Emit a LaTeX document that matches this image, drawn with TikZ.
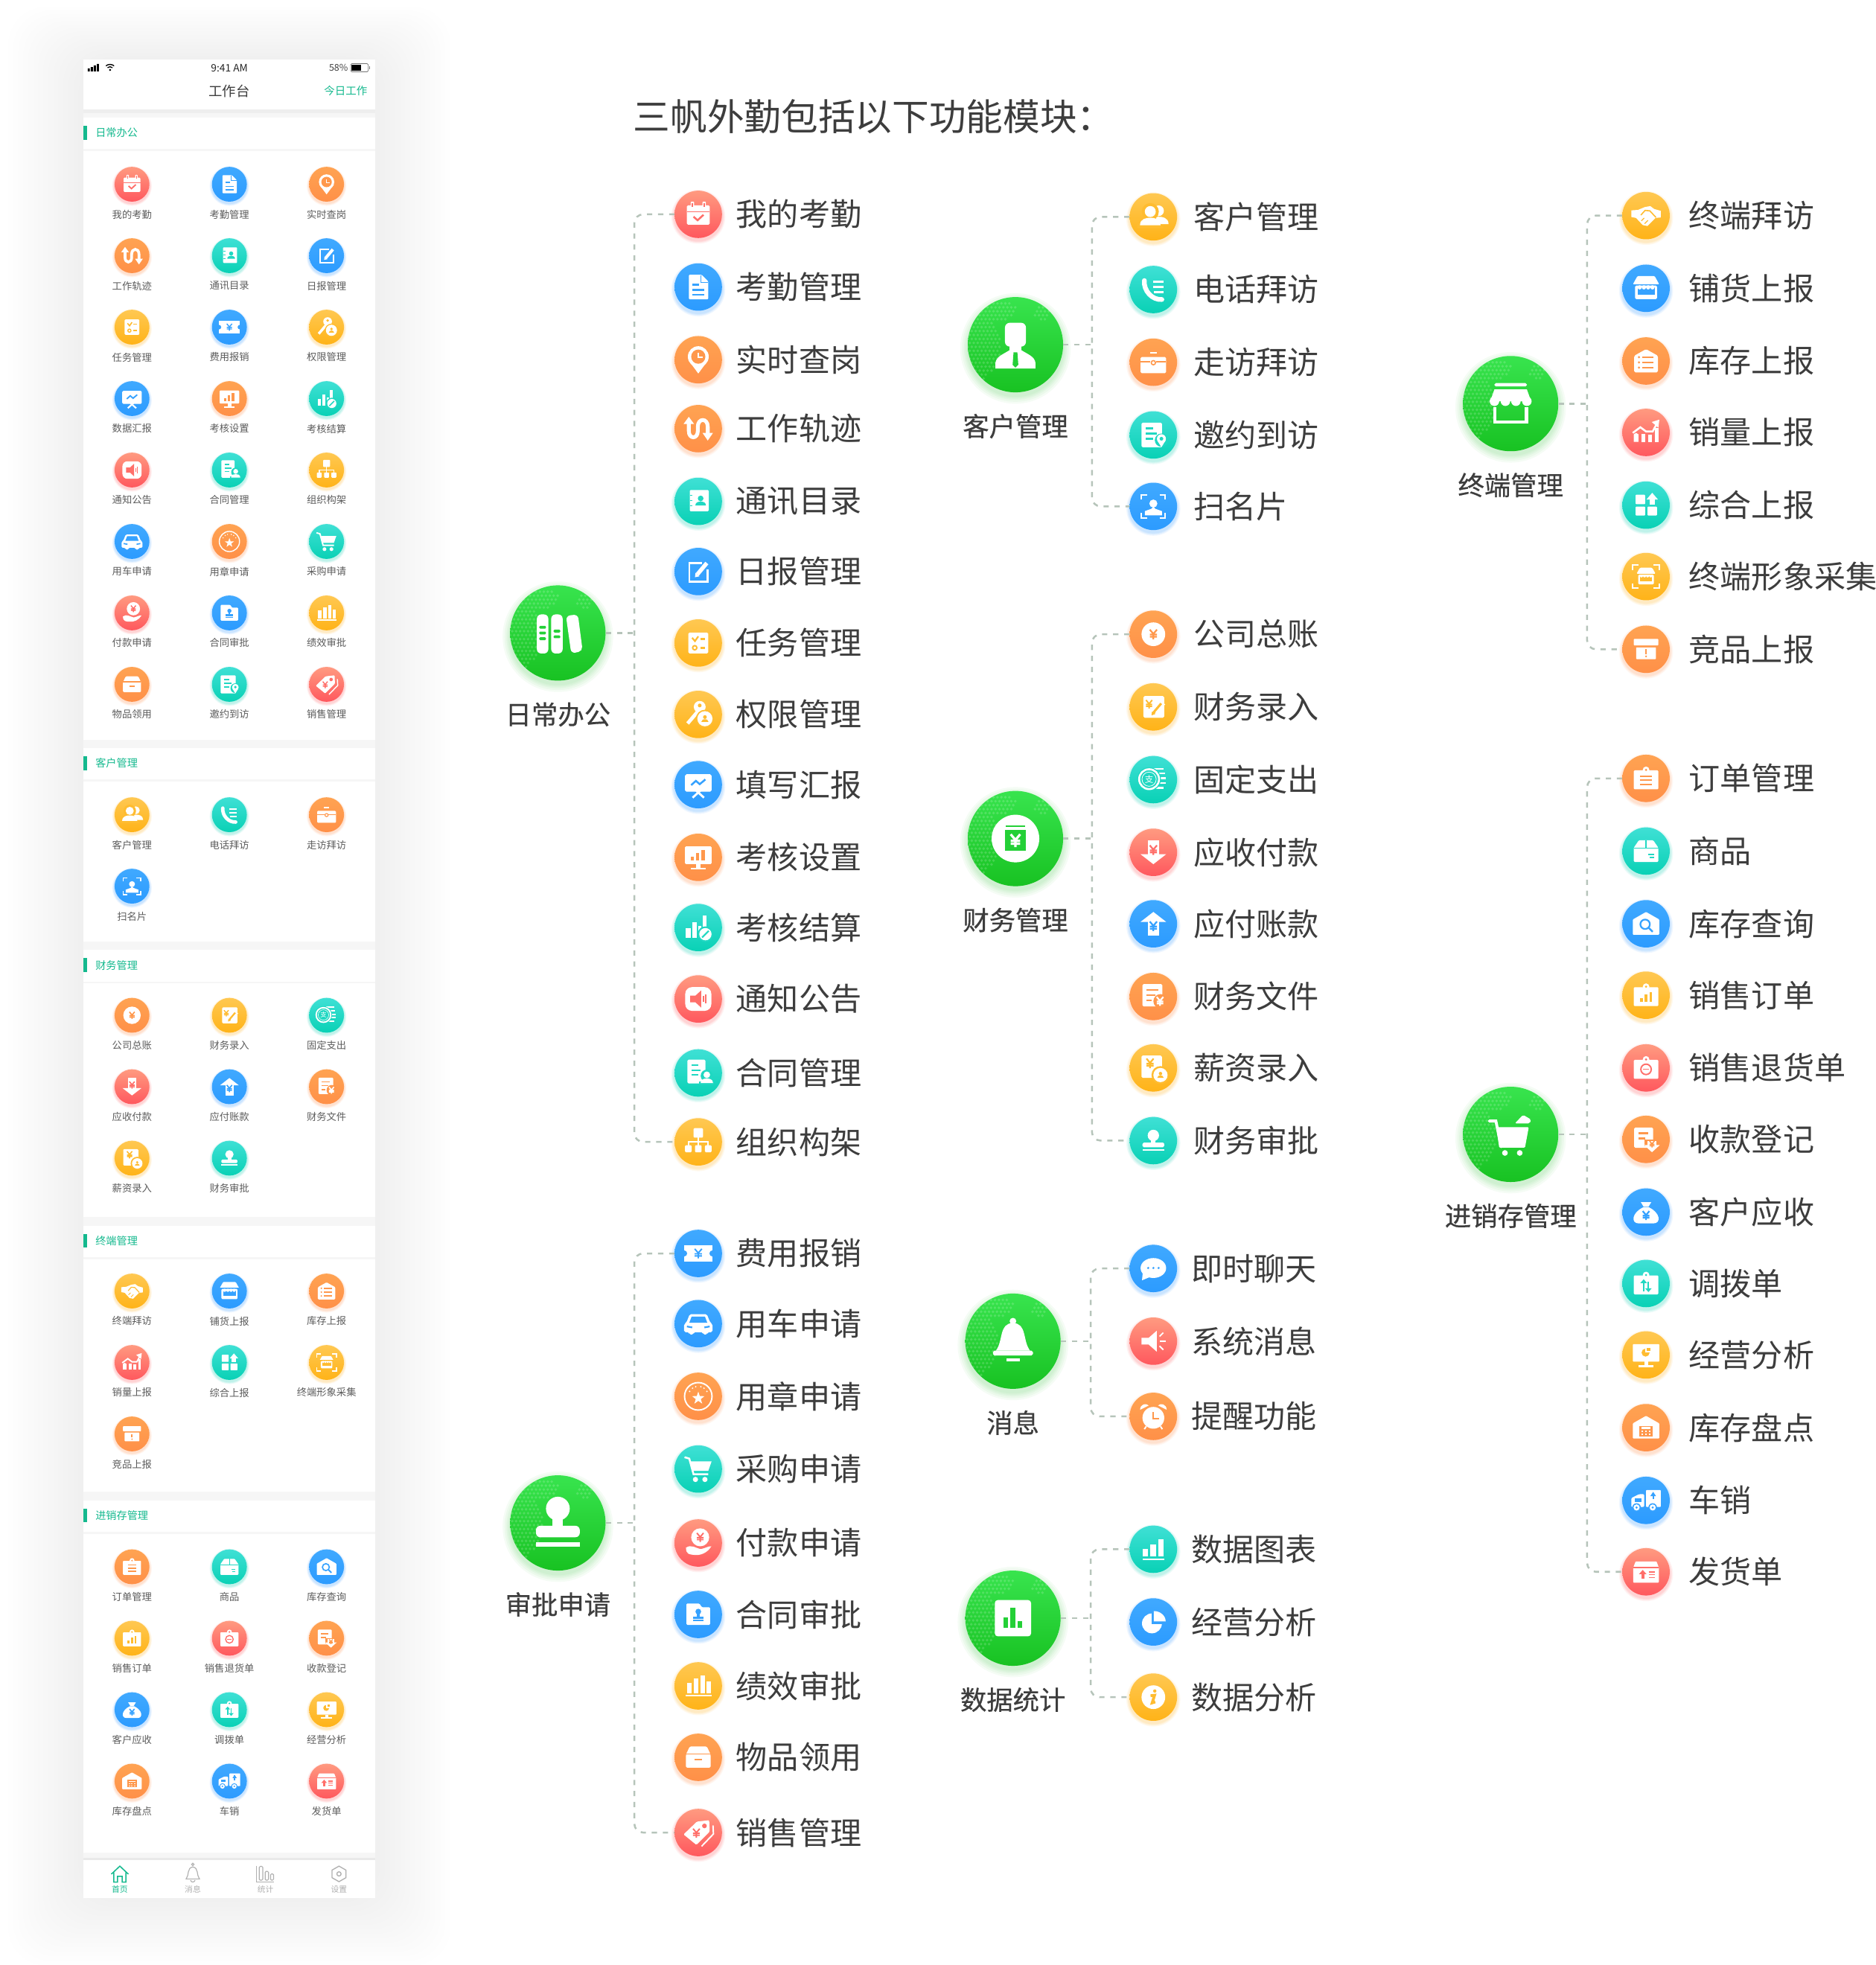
\documentclass[tikz,border=0pt]{standalone}
\usepackage{fontspec}
\setmainfont{Noto Sans CJK SC}
\newfontfamily\cjkm[FakeBold=0.45]{Noto Sans CJK SC}
\definecolor{redT}{HTML}{FF9A80}\definecolor{redB}{HTML}{FF585E}\definecolor{redM}{HTML}{FF6F6A}
\definecolor{blueT}{HTML}{40A9FF}\definecolor{blueB}{HTML}{2C9BFF}\definecolor{blueM}{HTML}{36A2FF}
\definecolor{orangeT}{HTML}{FFA352}\definecolor{orangeB}{HTML}{FF9048}\definecolor{orangeM}{HTML}{FF984C}
\definecolor{tealT}{HTML}{3FE0D5}\definecolor{tealB}{HTML}{09D1B5}\definecolor{tealM}{HTML}{20D8C2}
\definecolor{yellowT}{HTML}{FFC852}\definecolor{yellowB}{HTML}{FFB318}\definecolor{yellowM}{HTML}{FFBC30}
\definecolor{greenT}{HTML}{38E44E}\definecolor{greenB}{HTML}{18C222}\definecolor{greenM}{HTML}{24D037}
\definecolor{txt}{HTML}{3D3D3D}\definecolor{ptxt}{HTML}{5C5C5C}\definecolor{acc}{HTML}{14B98E}
\definecolor{dash}{HTML}{B6C4BA}\definecolor{scr}{HTML}{F6F6F6}\definecolor{tabg}{HTML}{B0B0B0}
\tikzset{
 W/.style={fill=white,draw=none},C/.style={fill=ic,draw=none},
 rc/.style={rounded corners=#1*\ir pt},
 ws/.style={draw=white,line width=#1*\ir pt,fill=none},
 cs/.style={draw=ic,line width=#1*\ir pt,fill=none},
 conn/.style={draw=dash,line width=1.5pt,dash pattern=on 4.2pt off 4.6pt},
 lt/.style={anchor=west,inner sep=0,text=txt,font=\fontsize{25}{25}\selectfont},
 hl/.style={inner sep=0,text=txt,font=\cjkm\fontsize{21}{21}\selectfont},
 pl/.style={inner sep=0,text=ptxt,font=\fontsize{7.9}{8}\selectfont},
 sh/.style={anchor=west,inner sep=0,text=acc,font=\fontsize{8.4}{9}\selectfont},
 tb/.style={inner sep=0,font=\fontsize{6.4}{7}\selectfont},
}
\newcommand\yy[5]{\draw[#5,line width=#4*\ir pt] (#1-.5*#3,#2-.65*#3)--(#1,#2-.05*#3)--(#1+.5*#3,#2-.65*#3) (#1,#2-.05*#3)--(#1,#2+.7*#3) (#1-.5*#3,#2+.05*#3)--(#1+.5*#3,#2+.05*#3) (#1-.5*#3,#2+.35*#3)--(#1+.5*#3,#2+.35*#3);}
\newcommand\ps[4]{\fill[#4] (#1,#2-.35*#3) circle (.4*#3) (#1-.75*#3,#2+.65*#3) .. controls (#1-.75*#3,#2+.15*#3) and (#1-.25*#3,#2+.1*#3) .. (#1,#2+.1*#3) .. controls (#1+.25*#3,#2+.1*#3) and (#1+.75*#3,#2+.15*#3) .. (#1+.75*#3,#2+.65*#3) -- cycle;}
% ---- glyphs, unit = icon radius, y downward
\newcommand\Gcal{\fill[W,rc=.05](-.48,-.38) rectangle (.48,.44);\fill[C](-.48,-.12) rectangle (.48,-.08);\fill[W,rc=.03](-.32,-.54) rectangle (-.18,-.26);\fill[W,rc=.03](.18,-.54) rectangle (.32,-.26);\fill[C](-.27,-.48) rectangle (-.23,-.32);\fill[C](.23,-.48) rectangle (.27,-.32);\draw[cs=.08](-.2,.1)--(-.03,.25)--(.22,.02);}
\newcommand\Gdoc{\fill[W,rc=.04](-.4,-.52)--(.14,-.52)--(.42,-.24)--(.42,.52)--(-.4,.52)--cycle;\draw[cs=.04](.1,-.5)--(.1,-.2)--(.4,-.2);\draw[cs=.07](-.24,-.1)--(.02,-.1) (-.24,.12)--(.26,.12) (-.24,.32)--(.26,.32);}
\newcommand\Gpin{\fill[W](0,-.13) circle (.44);\fill[W](-.41,.03)--(0,.58)--(.41,.03)--cycle;\fill[C](0,-.13) circle (.3);\draw[ws=.06](-.01,-.3)--(-.01,-.1)--(.2,-.1);}
\newcommand\Gtrack{\draw[ws=.16](-.4,-.28)--(-.4,.1) .. controls (-.4,.45) and (-.02,.45) .. (-.02,.1)--(-.02,-.08) .. controls (-.02,-.46) and (.4,-.46) .. (.4,-.08)--(.4,.25);\fill[W](-.62,-.2)--(-.4,-.5)--(-.18,-.2)--cycle (.18,.18)--(.62,.18)--(.4,.5)--cycle;}
\newcommand\Gbook{\fill[W,rc=.04](-.36,-.48) rectangle (.44,.42);\fill[C](-.36,-.28) rectangle (-.24,-.24);\fill[C](-.36,-.06) rectangle (-.24,-.02);\fill[C](-.36,.16) rectangle (-.24,.2);\ps{.1}{-.02}{.3}{C}}
\newcommand\Gedit{\draw[ws=.08](.15,-.36)--(-.38,-.36)--(-.38,.42)--(.4,.42)--(.4,-.08);\draw[ws=.17](-.04,.12)--(.36,-.36);\fill[W](-.12,.05)--(-.14,.24)--(.05,.2)--cycle;}
\newcommand\Gtask{\fill[W,rc=.05](-.42,-.44) rectangle (.42,.44);\draw[cs=.07](-.26,-.22)--(-.14,-.08)--(.0,-.28);\draw[cs=.06](-.15,.2) circle (.09);\draw[cs=.08](.08,-.17)--(.28,-.17) (.08,.2)--(.28,.2);}
\newcommand\Gticket{\fill[W](-.6,-.36) rectangle (.6,.36);\fill[C](-.6,0) circle (.13) (.6,0) circle (.13);\yy{0}{0}{.3}{.06}{ic}}
\newcommand\Gkey{\fill[W](.06,-.32) circle (.25);\fill[C](.06,-.38) circle (.08);\draw[ws=.15](0,-.15)--(-.45,.38);\fill[C](.28,.18) circle (.38);\fill[W](.28,.18) circle (.32);\ps{.28}{.18}{.2}{C}}
\newcommand\Gboard{\fill[W,rc=.06](-.56,-.44) rectangle (.56,.3);\draw[cs=.08](-.3,.02)--(-.1,-.16)--(.06,-.02)--(.3,-.22);\draw[ws=.09](-.24,.55)--(.08,.26) (.24,.55)--(-.08,.26);}
\newcommand\Gmon{\fill[W,rc=.04](-.56,-.46) rectangle (.56,.28);\fill[C](-.3,-.04) rectangle (-.18,.14);\fill[C](-.08,-.18) rectangle (.04,.14);\fill[C](.14,-.32) rectangle (.28,.14);\fill[W](-.1,.28) rectangle (.1,.46);\fill[W](-.3,.44) rectangle (.3,.52);}
\newcommand\Gsbar{\fill[W](-.52,.02) rectangle (-.32,.42);\fill[W](-.26,-.24) rectangle (-.06,.42);\fill[W](.0,-.06) rectangle (.14,.42);\fill[W](.18,-.5) rectangle (.36,.1);\fill[C](.3,.28) circle (.33);\fill[W](.3,.28) circle (.26);\draw[cs=.07](.16,.42)--(.44,.14);}
\newcommand\Gspk{\fill[W,rc=.28](-.55,-.5) rectangle (.55,.5);\fill[C](-.34,-.14)--(-.12,-.14)--(.12,-.36)--(.12,.36)--(-.12,.14)--(-.34,.14)--cycle;\draw[cs=.05](.22,-.12)--(.22,.12) (.32,-.18)--(.32,.18);}
\newcommand\Gcontract{\fill[W,rc=.05](-.46,-.56) rectangle (.3,.44);\draw[cs=.07](-.28,-.32)--(.0,-.32) (-.28,-.12)--(.1,-.12) (-.28,.08)--(.0,.08);\fill[C](.36,.12) circle (.26);\fill[C](.02,.36) rectangle (.66,.5);\ps{.36}{.2}{.35}{W}}
\newcommand\Gorg{\fill[W,rc=.04](-.2,-.58) rectangle (.2,-.18);\draw[ws=.06](0,-.2)--(0,.16) (-.42,.16)--(-.42,-.0)--(.42,-.0)--(.42,.16);\fill[W,rc=.04](-.56,.14) rectangle (-.28,.44);\fill[W,rc=.04](-.14,.14) rectangle (.14,.44);\fill[W,rc=.04](.28,.14) rectangle (.56,.44);}
\newcommand\Gcar{\fill[W,rc=.06](-.36,-.4)--(.36,-.4)--(.5,-.05)--(.6,.02)--(.6,.36)--(.38,.36)--(.38,.46)--(.2,.46)--(.2,.36)--(-.2,.36)--(-.2,.46)--(-.38,.46)--(-.38,.36)--(-.6,.36)--(-.6,.02)--(-.5,-.05)--cycle;\fill[C](-.28,-.3)--(.28,-.3)--(.38,-.04)--(-.38,-.04)--cycle;\draw[cs=.07](-.48,.12)--(-.26,.16) (.48,.12)--(.26,.16);}
\newcommand\Gseal{\draw[ws=.06](0,0) circle (.58);\foreach \a in {-150,-125,-105,-75,-55,-30}{\fill[W](\a:.42) circle (.035);}\fill[W,shift={(0,.08)}](0,-.28)--(.065,-.089)--(.266,-.087)--(.105,.034)--(.165,.227)--(0,.11)--(-.165,.227)--(-.105,.034)--(-.266,-.087)--(-.065,-.089)--cycle;}
\newcommand\Gcart{\draw[ws=.08](-.58,-.5)--(-.38,-.44)--(-.2,.22)--(.42,.22);\fill[W](-.32,-.32)--(.56,-.32)--(.42,.08)--(-.22,.08)--cycle;\fill[W](-.12,.44) circle (.11) (.28,.44) circle (.11);}
\newcommand\Ghand{\fill[W](.08,-.24) circle (.38);\yy{.08}{-.24}{.28}{.06}{ic}\fill[W](-.52,.2) .. controls (-.3,.04) and (-.1,.22) .. (.1,.26) .. controls (.3,.22) and (.45,.12) .. (.55,.14) .. controls (.4,.4) and (.1,.55) .. (-.2,.5) .. controls (-.34,.48) and (-.52,.5) .. (-.52,.2)--cycle;}
\newcommand\Gfolder{\fill[W,rc=.04](-.5,-.46)--(.05,-.46)--(.15,-.3)--(.5,-.3)--(.5,.44)--(-.5,.44)--cycle;\fill[C](0,-.12) circle (.12);\fill[C](-.05,-.05) rectangle (.05,.1);\fill[C](-.22,.08) rectangle (.22,.18);\fill[C](-.22,.23) rectangle (.22,.28);}
\newcommand\Gbars{\fill[W](-.48,-.14) rectangle (-.28,.3);\fill[W](-.2,-.3) rectangle (0,.3);\fill[W](.08,-.44) rectangle (.28,.3);\fill[W](.36,-.2) rectangle (.52,.3);\fill[W](-.54,.38) rectangle (.56,.45);}
\newcommand\Gbox{\fill[W,rc=.05](-.36,-.46)--(.36,-.46)--(.52,-.12)--(.52,.44)--(-.52,.44)--(-.52,-.12)--cycle;\draw[cs=.06](-.52,-.14)--(.52,-.14);\draw[cs=.07](-.16,.1)--(.16,.1);}
\newcommand\Gtag{\fill[W,rc=.04](-.62,.08)--(-.06,-.46)--(.46,-.52)--(.48,-.04)--(-.08,.52)--cycle;\fill[C](.26,-.28) circle (.1);\yy{-.08}{.02}{.28}{.06}{ic}\draw[ws=.06](.62,-.3)--(.64,.06)--(.14,.58);}
\newcommand\Gppl{\ps{.22}{-.06}{.56}{W}\fill[C](-.13,-.22) circle (.36);\fill[C](-.68,.3)--(-.3,.05)--(.1,.05)--(.44,.48)--(-.68,.48)--cycle;\ps{-.13}{-.02}{.58}{W}}
\newcommand\Gphone{\draw[ws=.2,line cap=round](-.38,-.38) .. controls (-.42,.05) and (-.05,.45) .. (.36,.42);\draw[ws=.09](-.0,-.32)--(.44,-.32) (-.0,-.1)--(.44,-.1) (.02,.12)--(.44,.12);}
\newcommand\Gbrief{\fill[W,rc=.05](-.54,-.22) rectangle (.54,.46);\fill[W](-.14,-.44) rectangle (.14,-.36);\draw[cs=.05](-.54,-.02)--(-.12,-.02) (.12,-.02)--(.54,-.02);\draw[cs=.05](0,.02) circle (.09);}
\newcommand\Gdocpin{\fill[W,rc=.05](-.5,-.52) rectangle (.36,.52);\draw[cs=.07](-.32,-.28)--(-.02,-.28) (-.32,-.06)--(.14,-.06) (-.32,.16)--(-.02,.16);\fill[C](.34,.22) circle (.28);\fill[W](.34,.16) circle (.19);\fill[W](.17,.24)--(.34,.52)--(.51,.24)--cycle;\fill[C](.34,.16) circle (.08);}
\newcommand\Gscan{\draw[ws=.07](-.5,-.28)--(-.5,-.48)--(-.26,-.48) (.26,-.48)--(.5,-.48)--(.5,-.28) (-.5,.28)--(-.5,.48)--(-.26,.48) (.26,.48)--(.5,.48)--(.5,.28);\fill[W](0,-.12) circle (.17);\fill[W](0,0)--(.08,.1)--(.36,.2)--(.36,.38)--(-.36,.38)--(-.36,.2)--(-.08,.1)--cycle;}
\newcommand\Gyen{\fill[W](0,0) circle (.5);\yy{0}{0}{.3}{.07}{ic}}
\newcommand\Gwrite{\fill[W,rc=.06](-.42,-.46) rectangle (.46,.46);\yy{-.18}{-.12}{.26}{.06}{ic}\draw[cs=.12](.0,.26)--(.34,-.14);\draw[ws=.1](.12,.26)--(.46,-.14);\fill[C](-.06,.2)--(-.08,.36)--(.08,.3)--cycle;}
\newcommand\Gcoin{\fill[W](-.02,-.5) rectangle (.44,-.42);\fill[W](.06,-.3) rectangle (.5,-.22);\fill[W](.14,-.1) rectangle (.52,-.02);\fill[W](.14,.1) rectangle (.52,.18);\fill[W](.06,.3) rectangle (.44,.38);\fill[C](-.18,-.02) circle (.5);\draw[ws=.08](-.18,-.02) circle (.42);\draw[ws=.025](-.18,-.02) circle (.3);\pgfmathsetmacro\fz{.36*\ir}\node[inner sep=0,text=white,font=\fontsize{\fz}{\fz}\selectfont] (gz) at (-.18,-.02) {支};}
\newcommand\Gdown{\fill[W](-.24,-.5) rectangle (.24,.1);\fill[W](-.54,.08)--(.54,.08)--(0,.5)--cycle;\yy{0}{-.1}{.3}{.07}{ic}}
\newcommand\Gup{\fill[W](-.24,-.1) rectangle (.24,.5);\fill[W](-.54,-.08)--(.54,-.08)--(0,-.5)--cycle;\yy{0}{.1}{.3}{.07}{ic}}
\newcommand\Gfile{\fill[W,rc=.05](-.46,-.52) rectangle (.38,.42);\draw[cs=.07](-.3,-.28)--(.2,-.28) (-.3,-.06)--(.1,-.06) (-.3,.16)--(-.06,.16);\fill[C](.3,.2) circle (.3);\yy{.28}{.2}{.28}{.07}{white}}
\newcommand\Gsal{\fill[W,rc=.05](-.5,-.52) rectangle (.36,.42);\yy{-.14}{-.2}{.3}{.07}{ic}\fill[C](.3,.3) circle (.38);\fill[W](.3,.3) circle (.3);\ps{.3}{.3}{.18}{C}}
\newcommand\Gstamp{\fill[W](0,-.22) circle (.24);\fill[W](-.1,-.1) rectangle (.1,.1);\fill[W,rc=.06](-.46,.08) rectangle (.46,.28);\fill[W](-.46,.36) rectangle (.46,.44);}
\newcommand\Gshake{\fill[W](-.62,-.22)--(-.34,-.24)--(-.05,-.36)--(.18,-.4)--(.34,-.28)--(.62,-.2)--(.62,.08)--(.4,.1)--(.06,.44)--(-.14,.4)--(-.42,.1)--(-.62,.06)--cycle;\draw[cs=.05](-.22,-.02)--(-.04,-.22)--(.16,-.2)--(.42,.08);\draw[cs=.04](-.2,.22)--(-.08,.1) (-.06,.34)--(.08,.2);}
\newcommand\Gshop{\fill[W,rc=.04](-.36,-.52)--(.36,-.52)--(.56,-.16)--(-.56,-.16)--cycle;\fill[W,rc=.05](-.46,-.12) rectangle (.46,.46);\fill[C](-.36,-.04) rectangle (.36,.26);\foreach \q in {-.27,-.09,.09,.27}{\fill[W](\q,-.04) circle (.09);}\fill[C](-.56,-.18) rectangle (.56,-.14);}
\newcommand\Gstock{\fill[W,rc=.05](-.5,-.22)--(0,-.5)--(.5,-.22)--(.5,.48)--(-.5,.48)--cycle;\foreach \q in {-.16,.06,.28}{\fill[C](-.3,\q) circle (.05);\fill[C](-.16,\q-.04) rectangle (.32,\q+.04);}}
\newcommand\Gtrend{\fill[W](-.52,.08)--(-.42,.02)--(-.32,.08)--(-.32,.4)--(-.52,.4)--cycle;\fill[W](-.2,.06) rectangle (-.02,.4);\fill[W](.08,.1) rectangle (.26,.4);\fill[W](.36,-.2) rectangle (.52,.4);\draw[ws=.08](-.56,.02)--(-.24,-.22)--(.0,-.04)--(.28,-.04)--(.46,-.38);\fill[W](.24,-.44)--(.56,-.54)--(.52,-.2)--cycle;}
\newcommand\Gblocks{\fill[W,rc=.03](-.44,-.44) rectangle (-.04,-.04);\fill[W,rc=.03](-.44,.06) rectangle (-.04,.44);\fill[W,rc=.03](.06,.06) rectangle (.46,.44);\fill[W](.14,-.24) rectangle (.38,-.02);\fill[W](.02,-.24)--(.5,-.24)--(.26,-.52)--cycle;}
\newcommand\Gshopscan{\draw[ws=.07](-.56,-.28)--(-.56,-.48)--(-.32,-.48) (.32,-.48)--(.56,-.48)--(.56,-.28) (-.56,.28)--(-.56,.48)--(-.32,.48) (.32,.48)--(.56,.48)--(.56,.28);\begin{scope}[scale=.72]\Gshop\end{scope}}
\newcommand\Gcomp{\fill[W,rc=.03](-.52,-.44) rectangle (.52,-.16);\fill[W,rc=.03](-.42,-.08) rectangle (.42,.42);\fill[C](-.04,.0) rectangle (.04,.2);\fill[C](0,.3) circle (.045);}
\newcommand\Gclip{\fill[W,rc=.04](-.52,-.34) rectangle (.52,.46);\fill[W](0,-.36) circle (.14);\fill[C](0,-.36) circle (.05);}
\newcommand\Gorder{\Gclip\draw[cs=.06](-.24,-.1)--(.24,-.1) (-.24,.08)--(.24,.08) (-.24,.26)--(.24,.26);}
\newcommand\Ggoods{\fill[W,rc=.04](-.3,-.46)--(.3,-.46)--(.52,-.14)--(.52,.46)--(-.52,.46)--(-.52,-.14)--cycle;\draw[cs=.05](-.52,-.12)--(.52,-.12) (0,-.46)--(0,-.12);\draw[cs=.06](.1,.14)--(.34,.14) (.16,.28)--(.34,.28);}
\newcommand\Ghouse{\fill[W,rc=.03](-.56,-.18)--(0,-.5)--(.56,-.18)--(.56,.46)--(-.56,.46)--cycle;}
\newcommand\Gsearch{\Ghouse\draw[cs=.07](-.04,.02) circle (.2);\draw[cs=.08](.1,.16)--(.28,.34);}
\newcommand\Gsorder{\Gclip\fill[C](-.26,.12) rectangle (-.14,.28);\fill[C](-.06,-.04) rectangle (.06,.28);\fill[C](.14,-.14) rectangle (.26,.28);}
\newcommand\Greturn{\Gclip\draw[cs=.06](0,.06) circle (.22);\draw[cs=.05](-.12,.06)--(.12,.06);}
\newcommand\Gcollect{\fill[W,rc=.05](-.5,-.5) rectangle (.3,.36);\draw[cs=.07](-.32,-.26)--(.1,-.26) (-.32,-.04)--(-.04,-.04);\fill[C](-.06,.02) rectangle (.56,.3);\fill[W](.06,.06) rectangle (.44,.3);\fill[W](-.08,.24)--(.58,.24)--(.25,.54)--cycle;\yy{.25}{.2}{.2}{.05}{ic}}
\newcommand\Gbag{\fill[W](-.22,-.42)--(.22,-.42)--(.1,-.22)--(-.1,-.22)--cycle;\fill[W](-.12,-.2)--(.12,-.2) .. controls (.6,.02) and (.66,.48) .. (.3,.48)--(-.3,.48) .. controls (-.66,.48) and (-.6,.02) .. (-.12,-.2)--cycle;\yy{0}{.14}{.28}{.07}{ic}}
\newcommand\Gtransfer{\Gclip\draw[cs=.06](-.1,.32)--(-.1,-.06);\fill[C](-.24,-.02)--(.04,-.02)--(-.1,-.18)--cycle;\draw[cs=.06](.1,-.08)--(.1,.24);\fill[C](-.04,.2)--(.24,.2)--(.1,.36)--cycle;}
\newcommand\Gmonpie{\fill[W,rc=.03](-.56,-.46) rectangle (.56,.28);\fill[W](-.08,.28) rectangle (.08,.46);\fill[W](-.32,.44) rectangle (.32,.52);\fill[C](-.02,-.1) circle (.17);\fill[W](-.02,-.28) rectangle (.2,-.1);\fill[C](.04,-.3) rectangle (.2,-.16);}
\newcommand\Gcalc{\Ghouse\fill[C](-.28,-.08) rectangle (.28,.36);\fill[W](-.2,-.02) rectangle (.2,.06);\foreach \a in {-.16,0,.16}{\foreach \b in {.16,.28}{\fill[W](\a-.04,\b-.03) rectangle (\a+.04,\b+.03);}}}
\newcommand\Gtruck{\fill[W,rc=.04](-.62,-.1)--(-.3,-.26)--(-.08,-.26)--(-.08,.28)--(-.62,.28)--cycle;\fill[W,rc=.03](.0,-.44) rectangle (.62,.28);\fill[C](-.46,-.08) rectangle (-.2,.06);\fill[C](.27,-.32) rectangle (.33,-.04);\fill[C](.18,-.18)--(.42,-.18)--(.3,-.36)--cycle;\foreach \a in {-.4,.28}{\fill[C](\a,.3) circle (.18);\fill[W](\a,.3) circle (.13);\fill[C](\a,.3) circle (.05);}}
\newcommand\Gship{\fill[W,rc=.03](-.44,-.44)--(.44,-.44)--(.54,-.18)--(.54,.46)--(-.54,.46)--(-.54,-.18)--cycle;\draw[cs=.05](-.54,-.18)--(.54,-.18);\fill[C](-.3,.1)--(.02,.1)--(-.14,-.08)--cycle;\fill[C](-.2,.1) rectangle (-.08,.28);\draw[cs=.05](.12,.0)--(.36,.0) (.12,.12)--(.36,.12) (.12,.24)--(.36,.24);}
\newcommand\Gchat{\fill[W](0,-.02) ellipse (.54 and .42);\fill[W](-.44,.1)--(-.48,.5)--(-.1,.34)--cycle;\fill[C](-.22,-.02) circle (.05) (0,-.02) circle (.05) (.22,-.02) circle (.05);}
\newcommand\Gmeg{\fill[W](-.5,-.14)--(-.2,-.14)--(.14,-.44)--(.14,.44)--(-.2,.14)--(-.5,.14)--cycle;\draw[ws=.06](.26,-.2)--(.42,-.36) (.28,0)--(.52,0) (.26,.2)--(.42,.36);}
\newcommand\Gclock{\fill[W](0,.06) circle (.46);\draw[cs=.07](0,-.18)--(0,.1)--(.24,.1);\fill[W](-.56,-.28) .. controls (-.56,-.52) and (-.3,-.58) .. (-.2,-.46)--cycle;\fill[W](.56,-.28) .. controls (.56,-.52) and (.3,-.58) .. (.2,-.46)--cycle;\draw[ws=.06](-.3,.42)--(-.38,.54) (.3,.42)--(.38,.54);}
\newcommand\Gdchart{\fill[W](-.46,.0) rectangle (-.22,.3);\fill[W](-.12,-.2) rectangle (.12,.3);\fill[W](.2,-.42) rectangle (.44,.3);\fill[W](-.46,.38) rectangle (.46,.45);}
\newcommand\Gpie{\fill[W](-.06,.06) circle (.42);\fill[C](-.06,-.38) rectangle (.5,.08);\fill[W](.02,-.46) .. controls (.3,-.46) and (.52,-.26) .. (.52,-.02)--(.02,-.02)--cycle;}
\newcommand\Ginfo{\fill[W](0,0) circle (.5);\fill[C](.06,-.26) circle (.07);\draw[cs=.12](-.12,-.06)--(.05,-.08)--(-.05,.24)--(.08,.2);}
% hub glyphs
\newcommand\Gbooks{\fill[W,rc=.09](-.44,-.39) rectangle (-.2,.43);\fill[W,rc=.09](-.14,-.39) rectangle (.1,.43);\fill[W,rc=.09](.17,-.36)--(.42,-.39)--(.52,.38)--(.28,.43)--cycle;\foreach \q in {-.12,0,.12}{\fill[C,rc=.02](-.39,\q-.03) rectangle (-.25,\q+.03);}\foreach \q in {-.04,.08}{\fill[C,rc=.02](-.09,\q-.03) rectangle (.05,\q+.03);}}
\newcommand\Gman{\fill[W,rc=.1](-.22,-.46) rectangle (.22,.04);\fill[W](-.12,.0) rectangle (.12,.18);\fill[W](-.42,.5)--(-.42,.38) .. controls (-.4,.24) and (-.25,.2) .. (-.1,.1)--(.1,.1) .. controls (.25,.2) and (.4,.24) .. (.42,.38)--(.42,.5)--cycle;\fill[C](-.04,.16)--(.04,.16)--(.06,.42)--(0,.48)--(-.06,.42)--cycle;}
\newcommand\Ghshop{\fill[W,rc=.03](-.34,-.43) rectangle (.34,-.36);\fill[W](-.34,-.3)--(.34,-.3)--(.43,-.05)--(-.43,-.05)--cycle;\foreach \q in {-.34,-.11,.11,.34}{\fill[W](\q,-.05) circle (.1);}\draw[ws=.07](-.33,.08)--(-.33,.39)--(.33,.39)--(.33,.08);}
\newcommand\Gfin{\fill[W](0,0) circle (.5);\fill[C](-.22,-.18) rectangle (.22,.26);\fill[C](-.2,-.28) rectangle (.2,-.24);\yy{0}{.04}{.2}{.05}{white}}
\newcommand\Gbell{\fill[W](0,-.42) circle (.07);\fill[W](-.36,.2) .. controls (-.2,.0) and (-.3,-.38) .. (0,-.38) .. controls (.3,-.38) and (.2,.0) .. (.36,.2)--cycle;\fill[W,rc=.03](-.42,.2) rectangle (.42,.3);\fill[W](-.14,.36) rectangle (.14,.42);}
\newcommand\Ghstamp{\fill[W](0,-.3) circle (.25);\fill[W](-.11,-.2) rectangle (.11,.08);\fill[W,rc=.09](-.46,.06) rectangle (.46,.3);\fill[W](-.46,.4) rectangle (.46,.5);}
\newcommand\Gchart{\fill[W,rc=.06](-.38,-.38) rectangle (.38,.38);\fill[C](-.2,-.02) rectangle (-.1,.2);\fill[C](-.05,-.22) rectangle (.05,.2);\fill[C](.1,.06) rectangle (.2,.2);}
\newcommand\Ghcart{\draw[ws=.06,line cap=round](-.45,-.28)--(-.31,-.28)--(-.2,.26);\fill[W,rc=.02](-.3,-.15)--(.38,-.15)--(.3,.28)--(-.24,.28)--cycle;\fill[W](-.12,.39) circle (.06) (.19,.39) circle (.06);\fill[W,rc=.03](.09,-.23)--(.26,-.41)--(.43,-.31)--(.4,-.23)--cycle;}
% icon macro: name,x,y,r,palette,glyph
\newcommand\ic[6]{%
 \foreach \dd in {.14,.1,.07,.04}{\fill[#5B,opacity=.07] (#2,#3+.1*#4) circle ({#4*(1+\dd)});}%
 \node[circle,inner sep=0,minimum size=2*#4 pt,top color=#5T,bottom color=#5B] (#1) at (#2,#3) {};%
 \colorlet{ic}{#5M}%
 \begin{scope}[shift={(#2,#3)},scale=#4]\def\ir{#4}\csname G#6\endcsname\end{scope}}
% list item: name,x,y,palette,glyph,text,textx
\newcommand\li[7]{\ic{#1}{#2}{#3}{18.9}{#4}{#5}\node[lt] (#1t) at (#7,#3) {#6};}
% phone item: name,x,y,palette,glyph,text
\newcommand\phic[6]{\ic{#1}{#2}{#3}{13.9}{#4}{#5}\node[pl] (#1t) at (#2,#3+24) {#6};}
% hub: name,x,y,glyph,text,labely
\newcommand\hub[6]{%
 \foreach \dd in {.16,.12,.08,.05,.02}{\fill[greenB,opacity=.045] (#2,#3+3) circle ({38*(1+\dd)});}%
 \node[circle,inner sep=0,minimum size=76pt,top color=greenT,bottom color=greenB] (#1) at (#2,#3) {};%
 \begin{scope}\clip (#2,#3) circle (38);\begin{scope}[shift={(#2,#3)},scale=38]%
 \foreach \j in {0,...,21}{\foreach \i in {0,...,23}{%
  \pgfmathsetmacro\ddx{-1+\i*.083+mod(\j,2)*.0415}\pgfmathsetmacro\ddy{-.95+\j*.083}%
  \pgfmathsetmacro\on{((\ddx+1)^2/.5+(\ddy-.02)^2/.62<1||(\ddx+.35)^2/.14+(\ddy+.72)^2/.05<1||(\ddx-.55)^2/.03+(\ddy+.68)^2/.025<1)?1:0}%
  \ifdim\on pt>0pt \fill[white,opacity=.17] (\ddx,\ddy) circle (.03);\fi}}%
 \end{scope}\end{scope}%
 \colorlet{ic}{greenM}%
 \begin{scope}[shift={(#2,#3)},scale=38]\def\ir{38}\csname G#4\endcsname\end{scope}%
 \node[hl] (#1t) at (#2,#6) {#5};}
% connector: hub,first,last,bracket x
\newcommand\conn[4]{\coordinate (#1x) at (#4,0);
 \draw[conn,rounded corners=7pt] (#2.west) -- (#2.west -| #1x) -- (#3.west -| #1x) -- (#3.west);
 \draw[conn] (#1.east) -- (#1.east -| #1x);}
% phone card: top,bottom,header y,title
\newcommand\card[5]{\fill[white] (66.5,#2) rectangle (299.3,#3);\fill[scr] (66.5,#2+25) rectangle (299.3,#2+26.6);\fill[acc] (66.5,#4-5.5) rectangle (69.3,#4+5.5);\node[sh] (#1) at (76,#4) {#5};}
\begin{document}
\begin{tikzpicture}[x=1pt,y=-1pt]
\useasboundingbox (0,0) rectangle (1496.4,1567.7);
\fill[white] (0,0) rectangle (1496.4,1567.7);
% phone shadow
\foreach \d in {60,56,52,48,44,40,36,32,28,24,20,16,12,8,4}{\fill[black,opacity=.0027,rounded corners=30pt] (66.5-\d,47.5-\d*.7) rectangle (299.3+\d,1514+\d*.9);}
\fill[scr] (66.5,47.5) rectangle (299.3,1514);
\fill[black,opacity=.03] (66.5,87.5) rectangle (299.3,90);
\fill[white] (66.5,47.5) rectangle (299.3,87.5);
% status bar
\fill[black] (70,54.5) rectangle (71.7,57) (72.4,53.5) rectangle (74.1,57) (74.8,52.2) rectangle (76.5,57) (77.2,51) rectangle (78.9,57);
\draw[black,line width=.8pt] (84.5,52.6) .. controls (86,51) and (89.5,51) .. (91,52.6) (85.8,54) .. controls (87,53) and (88.5,53) .. (89.7,54);
\fill[black] (87.8,55.8) circle (.9);
\node[inner sep=0,font=\fontsize{8.2}{9}\selectfont,text=black!85] (clock) at (183,54.4) {9:41 AM};
\node[inner sep=0,anchor=west,font=\fontsize{7.4}{8}\selectfont,text=black!75] (batt) at (262.3,54.2) {58\%};
\draw[black!55,line width=.4pt,rounded corners=1pt] (279.6,50.8) rectangle (293.8,57.3);
\fill[black] (280.5,51.6) rectangle (288,56.5);
\fill[black!50] (294.4,53) rectangle (295,55.2);
\node[inner sep=0,font=\fontsize{10.9}{12}\selectfont,text=txt] (navt) at (183,72.6) {工作台};
\node[inner sep=0,font=\fontsize{8.6}{9}\selectfont,text=acc,anchor=west] (navr) at (258.4,72.6) {今日工作};
% cards
\card{s1}{94}{590}{106}{日常办公}
\card{s2}{597}{751}{609}{客户管理}
\card{s3}{758}{971}{770}{财务管理}
\card{s4}{978}{1190}{990}{终端管理}
\card{s5}{1197}{1478}{1209}{进销存管理}
\fill[black,opacity=.05] (66.5,1482) rectangle (299.3,1484.5);
\fill[white] (66.5,1484) rectangle (299.3,1514);
% tab bar
\draw[acc,line width=.9pt] (88.8,1495.2)--(95.6,1488.8)--(102.4,1495.2) (90.8,1494)--(90.8,1501.5)--(93.8,1501.5)--(93.8,1497)--(97.4,1497)--(97.4,1501.5)--(100.4,1501.5)--(100.4,1494);
\draw[tabg,line width=.7pt] (148.5,1499) .. controls (151,1496) and (149,1490) .. (153.8,1489.5) .. controls (158.6,1490) and (156.6,1496) .. (159.1,1499)--cycle (152,1500) .. controls (152.5,1502) and (155,1502) .. (155.6,1500) (153.8,1487.5) circle (1);
\draw[tabg,line width=.7pt] (204.8,1488.5)--(204.8,1501.5)--(218.8,1501.5);
\draw[tabg,line width=.7pt,rounded corners=.8pt] (206.8,1489) rectangle (209.6,1500) (211.5,1493) rectangle (214.2,1500) (215.8,1495) rectangle (218.2,1500);
\draw[tabg,line width=.8pt] (270.4,1488.8)--(276,1492)--(276,1498)--(270.4,1501.2)--(264.8,1498)--(264.8,1492)--cycle (270.4,1495) circle (1.7);
\node[tb,text=acc] (t1) at (95.6,1507.5) {首页};
\node[tb,text=tabg] (t2) at (153.8,1507.5) {消息};
\node[tb,text=tabg] (t3) at (211.8,1507.5) {统计};
\node[tb,text=tabg] (t4) at (270.4,1507.5) {设置};
% phone icons
\def\cA{105.3}\def\cB{183}\def\cC{260.5}
\phic{pa1}{\cA}{147}{red}{cal}{我的考勤}\phic{pa2}{\cB}{147}{blue}{doc}{考勤管理}\phic{pa3}{\cC}{147}{orange}{pin}{实时查岗}
\phic{pa4}{\cA}{204}{orange}{track}{工作轨迹}\phic{pa5}{\cB}{204}{teal}{book}{通讯目录}\phic{pa6}{\cC}{204}{blue}{edit}{日报管理}
\phic{pa7}{\cA}{261}{yellow}{task}{任务管理}\phic{pa8}{\cB}{261}{blue}{ticket}{费用报销}\phic{pa9}{\cC}{261}{yellow}{key}{权限管理}
\phic{pa10}{\cA}{318}{blue}{board}{数据汇报}\phic{pa11}{\cB}{318}{orange}{mon}{考核设置}\phic{pa12}{\cC}{318}{teal}{sbar}{考核结算}
\phic{pa13}{\cA}{375}{red}{spk}{通知公告}\phic{pa14}{\cB}{375}{teal}{contract}{合同管理}\phic{pa15}{\cC}{375}{yellow}{org}{组织构架}
\phic{pa16}{\cA}{432}{blue}{car}{用车申请}\phic{pa17}{\cB}{432}{orange}{seal}{用章申请}\phic{pa18}{\cC}{432}{teal}{cart}{采购申请}
\phic{pa19}{\cA}{489}{red}{hand}{付款申请}\phic{pa20}{\cB}{489}{blue}{folder}{合同审批}\phic{pa21}{\cC}{489}{yellow}{bars}{绩效审批}
\phic{pa22}{\cA}{546}{orange}{box}{物品领用}\phic{pa23}{\cB}{546}{teal}{docpin}{邀约到访}\phic{pa24}{\cC}{546}{red}{tag}{销售管理}
\phic{pb1}{\cA}{650}{yellow}{ppl}{客户管理}\phic{pb2}{\cB}{650}{teal}{phone}{电话拜访}\phic{pb3}{\cC}{650}{orange}{brief}{走访拜访}
\phic{pb4}{\cA}{707}{blue}{scan}{扫名片}
\phic{pc1}{\cA}{810}{orange}{yen}{公司总账}\phic{pc2}{\cB}{810}{yellow}{write}{财务录入}\phic{pc3}{\cC}{810}{teal}{coin}{固定支出}
\phic{pc4}{\cA}{867}{red}{down}{应收付款}\phic{pc5}{\cB}{867}{blue}{up}{应付账款}\phic{pc6}{\cC}{867}{orange}{file}{财务文件}
\phic{pc7}{\cA}{924}{yellow}{sal}{薪资录入}\phic{pc8}{\cB}{924}{teal}{stamp}{财务审批}
\phic{pd1}{\cA}{1030}{yellow}{shake}{终端拜访}\phic{pd2}{\cB}{1030}{blue}{shop}{铺货上报}\phic{pd3}{\cC}{1030}{orange}{stock}{库存上报}
\phic{pd4}{\cA}{1087}{red}{trend}{销量上报}\phic{pd5}{\cB}{1087}{teal}{blocks}{综合上报}\phic{pd6}{\cC}{1087}{yellow}{shopscan}{终端形象采集}
\phic{pd7}{\cA}{1144}{orange}{comp}{竞品上报}
\phic{pe1}{\cA}{1250}{orange}{order}{订单管理}\phic{pe2}{\cB}{1250}{teal}{goods}{商品}\phic{pe3}{\cC}{1250}{blue}{search}{库存查询}
\phic{pe4}{\cA}{1307}{yellow}{sorder}{销售订单}\phic{pe5}{\cB}{1307}{red}{return}{销售退货单}\phic{pe6}{\cC}{1307}{orange}{collect}{收款登记}
\phic{pe7}{\cA}{1364}{blue}{bag}{客户应收}\phic{pe8}{\cB}{1364}{teal}{transfer}{调拨单}\phic{pe9}{\cC}{1364}{yellow}{monpie}{经营分析}
\phic{pe10}{\cA}{1421}{orange}{calc}{库存盘点}\phic{pe11}{\cB}{1421}{blue}{truck}{车销}\phic{pe12}{\cC}{1421}{red}{ship}{发货单}
% title
\node[inner sep=0,anchor=west,text=txt,font=\fontsize{29.5}{30}\selectfont] (title) at (505,93) {三帆外勤包括以下功能模块：};
% hubs
\hub{hA}{445}{505}{books}{日常办公}{570}
\hub{hB}{445}{1215}{hstamp}{审批申请}{1280}
\hub{hC}{810}{275}{man}{客户管理}{340}
\hub{hD}{810}{669}{fin}{财务管理}{734}
\hub{hE}{808}{1070}{bell}{消息}{1135}
\hub{hF}{808}{1291}{chart}{数据统计}{1356}
\hub{hG}{1205}{322}{hshop}{终端管理}{387}
\hub{hH}{1205}{905}{hcart}{进销存管理}{970}
% column 1
\def\X{557}\def\T{587}
\li{a1}{\X}{171}{red}{cal}{我的考勤}{\T}\li{a2}{\X}{229}{blue}{doc}{考勤管理}{\T}\li{a3}{\X}{287}{orange}{pin}{实时查岗}{\T}
\li{a4}{\X}{342}{orange}{track}{工作轨迹}{\T}\li{a5}{\X}{400}{teal}{book}{通讯目录}{\T}\li{a6}{\X}{456}{blue}{edit}{日报管理}{\T}
\li{a7}{\X}{513}{yellow}{task}{任务管理}{\T}\li{a8}{\X}{570}{yellow}{key}{权限管理}{\T}\li{a9}{\X}{626}{blue}{board}{填写汇报}{\T}
\li{a10}{\X}{684}{orange}{mon}{考核设置}{\T}\li{a11}{\X}{740}{teal}{sbar}{考核结算}{\T}\li{a12}{\X}{797}{red}{spk}{通知公告}{\T}
\li{a13}{\X}{856}{teal}{contract}{合同管理}{\T}\li{a14}{\X}{911}{yellow}{org}{组织构架}{\T}
\li{b1}{\X}{1000}{blue}{ticket}{费用报销}{\T}\li{b2}{\X}{1056}{blue}{car}{用车申请}{\T}\li{b3}{\X}{1114}{orange}{seal}{用章申请}{\T}
\li{b4}{\X}{1172}{teal}{cart}{采购申请}{\T}\li{b5}{\X}{1231}{red}{hand}{付款申请}{\T}\li{b6}{\X}{1288}{blue}{folder}{合同审批}{\T}
\li{b7}{\X}{1345}{yellow}{bars}{绩效审批}{\T}\li{b8}{\X}{1402}{orange}{box}{物品领用}{\T}\li{b9}{\X}{1462}{red}{tag}{销售管理}{\T}
% column 2
\def\X{920}\def\T{952}
\li{c1}{\X}{173}{yellow}{ppl}{客户管理}{\T}\li{c2}{\X}{231}{teal}{phone}{电话拜访}{\T}\li{c3}{\X}{289}{orange}{brief}{走访拜访}{\T}
\li{c4}{\X}{347}{teal}{docpin}{邀约到访}{\T}\li{c5}{\X}{404}{blue}{scan}{扫名片}{\T}
\li{d1}{\X}{506}{orange}{yen}{公司总账}{\T}\li{d2}{\X}{564}{yellow}{write}{财务录入}{\T}\li{d3}{\X}{622}{teal}{coin}{固定支出}{\T}
\li{d4}{\X}{680}{red}{down}{应收付款}{\T}\li{d5}{\X}{737}{blue}{up}{应付账款}{\T}\li{d6}{\X}{795}{orange}{file}{财务文件}{\T}
\li{d7}{\X}{852}{yellow}{sal}{薪资录入}{\T}\li{d8}{\X}{910}{teal}{stamp}{财务审批}{\T}
\def\T{950}
\li{e1}{\X}{1012}{blue}{chat}{即时聊天}{\T}\li{e2}{\X}{1070}{red}{meg}{系统消息}{\T}\li{e3}{\X}{1130}{orange}{clock}{提醒功能}{\T}
\li{f1}{\X}{1236}{teal}{dchart}{数据图表}{\T}\li{f2}{\X}{1294}{blue}{pie}{经营分析}{\T}\li{f3}{\X}{1354}{yellow}{info}{数据分析}{\T}
% column 3
\def\X{1313}\def\T{1347}
\li{g1}{\X}{172}{yellow}{shake}{终端拜访}{\T}\li{g2}{\X}{230}{blue}{shop}{铺货上报}{\T}\li{g3}{\X}{288}{orange}{stock}{库存上报}{\T}
\li{g4}{\X}{345}{red}{trend}{销量上报}{\T}\li{g5}{\X}{403}{teal}{blocks}{综合上报}{\T}\li{g6}{\X}{460}{yellow}{shopscan}{终端形象采集}{\T}
\li{g7}{\X}{518}{orange}{comp}{竞品上报}{\T}
\li{h1}{\X}{621}{orange}{order}{订单管理}{\T}\li{h2}{\X}{679}{teal}{goods}{商品}{\T}\li{h3}{\X}{737}{blue}{search}{库存查询}{\T}
\li{h4}{\X}{794}{yellow}{sorder}{销售订单}{\T}\li{h5}{\X}{852}{red}{return}{销售退货单}{\T}\li{h6}{\X}{909}{orange}{collect}{收款登记}{\T}
\li{h7}{\X}{967}{blue}{bag}{客户应收}{\T}\li{h8}{\X}{1024}{teal}{transfer}{调拨单}{\T}\li{h9}{\X}{1081}{yellow}{monpie}{经营分析}{\T}
\li{h10}{\X}{1139}{orange}{calc}{库存盘点}{\T}\li{h11}{\X}{1197}{blue}{truck}{车销}{\T}\li{h12}{\X}{1254}{red}{ship}{发货单}{\T}
% connectors
\conn{hA}{a1}{a14}{506}
\conn{hB}{b1}{b9}{506}
\conn{hC}{c1}{c5}{871}
\conn{hD}{d1}{d8}{871}
\conn{hE}{e1}{e3}{870}
\conn{hF}{f1}{f3}{870}
\conn{hG}{g1}{g7}{1266}
\conn{hH}{h1}{h12}{1266}
\end{tikzpicture}
\end{document}
